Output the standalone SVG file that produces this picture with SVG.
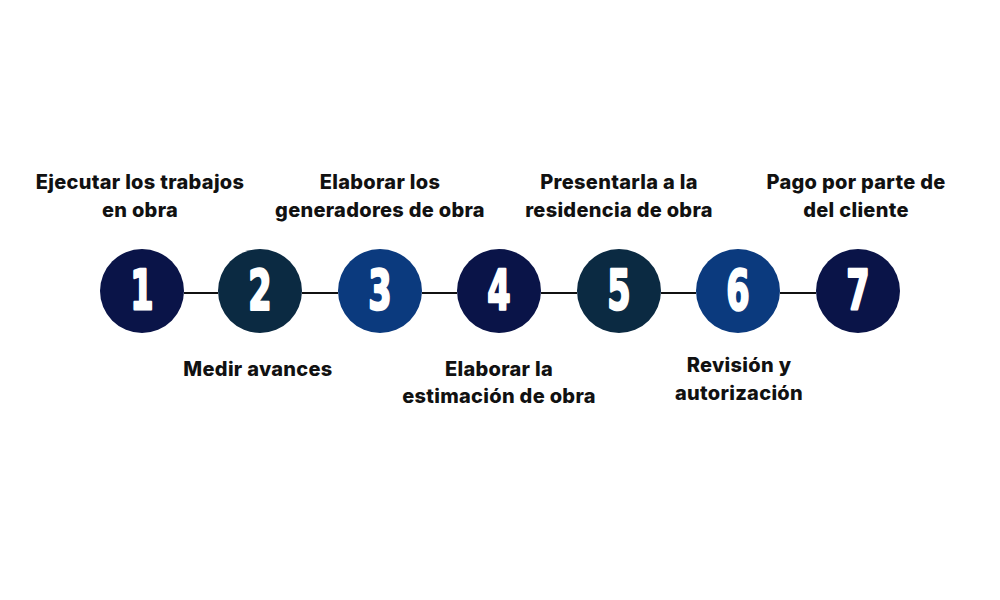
<svg xmlns="http://www.w3.org/2000/svg" width="1000" height="600" viewBox="0 0 1000 600">
<style>
.lbl{font-family:"Inter","Open Sans","Liberation Sans",sans-serif;font-weight:800;font-size:20px;letter-spacing:0.3px;fill:#111111;text-anchor:middle}
.num{font-family:"DejaVu Sans","Liberation Sans",sans-serif;font-weight:bold;font-size:56px;fill:#ffffff;stroke:#ffffff;stroke-width:2.5;stroke-linejoin:round;text-anchor:middle}
.navy{fill:#0a1448}.teal{fill:#0b2a42}.blue{fill:#0b3a7e}
.conn{stroke:#111111;stroke-width:2}
</style>
<rect width="1000" height="600" fill="#ffffff"/>
<g id="connectors">
<line class="conn" x1="184" y1="293" x2="218" y2="293"/>
<line class="conn" x1="302" y1="293" x2="338" y2="293"/>
<line class="conn" x1="422" y1="293" x2="457" y2="293"/>
<line class="conn" x1="541" y1="293" x2="577" y2="293"/>
<line class="conn" x1="661" y1="293" x2="696" y2="293"/>
<line class="conn" x1="780" y1="293" x2="816" y2="293"/>
</g>
<g id="node1"><circle class="navy" cx="142" cy="291" r="42"/><text class="num" transform="translate(142 309) scale(0.6 1)">1</text>
<text class="lbl" x="140" y="189">Ejecutar los trabajos</text><text class="lbl" x="140" y="217">en obra</text></g>
<g id="node2"><circle class="teal" cx="260" cy="291" r="42"/><text class="num" transform="translate(260 309) scale(0.6 1)">2</text>
<text class="lbl" x="258" y="376">Medir avances</text></g>
<g id="node3"><circle class="blue" cx="380" cy="291" r="42"/><text class="num" transform="translate(380 309) scale(0.6 1)">3</text>
<text class="lbl" x="380" y="189">Elaborar los</text><text class="lbl" x="380" y="217">generadores de obra</text></g>
<g id="node4"><circle class="navy" cx="499" cy="291" r="42"/><text class="num" transform="translate(499 309) scale(0.6 1)">4</text>
<text class="lbl" x="499" y="376">Elaborar la</text><text class="lbl" x="499" y="403">estimación de obra</text></g>
<g id="node5"><circle class="teal" cx="619" cy="291" r="42"/><text class="num" transform="translate(619 309) scale(0.6 1)">5</text>
<text class="lbl" x="619" y="189">Presentarla a la</text><text class="lbl" x="619" y="217">residencia de obra</text></g>
<g id="node6"><circle class="blue" cx="738" cy="291" r="42"/><text class="num" transform="translate(738 309) scale(0.6 1)">6</text>
<text class="lbl" x="739" y="372">Revisión y</text><text class="lbl" x="739" y="400">autorización</text></g>
<g id="node7"><circle class="navy" cx="858" cy="291" r="42"/><text class="num" transform="translate(858 309) scale(0.6 1)">7</text>
<text class="lbl" x="856" y="189">Pago por parte de</text><text class="lbl" x="856" y="217">del cliente</text></g>
</svg>
